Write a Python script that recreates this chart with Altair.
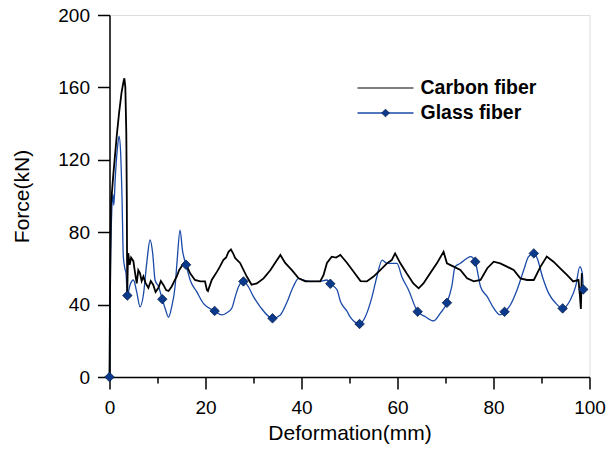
import altair as alt
import pandas as pd

# ---- data ----
carbon_x = [0, 0.1, 0.2, 0.3, 0.45, 0.8, 1.2, 1.5, 2.0, 2.5, 2.9, 3.1, 3.3, 3.5, 3.6, 3.65, 3.7, 3.8, 3.9, 4.2,
            4.5, 4.97, 5.3, 5.67, 6.0, 6.36, 6.7, 7.06, 7.5, 8.1, 8.6, 9.1, 9.6, 10.2, 10.7, 11.2, 11.8, 12.3, 12.96, 13.5,
            14.0, 14.5, 15.0, 15.5, 16.0, 16.8, 17.8, 18.9, 19.9, 20.3, 20.5, 21.3, 22.4, 23.0, 23.7, 24.3, 24.8, 25.3, 25.8, 26.2,
            27.2, 28.6, 29.6, 30.7, 32.1, 33.5, 34.9, 35.6, 36.6, 38.0, 39.4, 40.8, 42.5, 43.9, 44.6, 45.3, 46.3, 47.2, 48.1, 49.5,
            50.9, 52.3, 53.6, 55.0, 56.4, 57.8, 58.8, 59.5, 60.6, 61.9, 63.3, 64.4, 65.4, 66.8, 68.2, 69.6, 70.3, 71.7, 73.1, 74.5,
            75.9, 77.3, 78.7, 80.05, 81.4, 82.8, 84.2, 85.6, 87.0, 88.4, 89.8, 91.1, 92.5, 93.9, 95.3, 96.6, 97.7, 98.0, 98.2, 98.4]
carbon_y = [0, 40, 70, 95, 100, 112, 124, 133, 146, 157, 163, 165, 160, 135, 100, 70, 46, 60, 68.5, 62,
            66, 64, 58, 51.7, 59, 57.3, 53, 55.5, 52, 49.3, 53, 51, 47, 49.3, 53, 51, 48, 47.5, 50, 53,
            55.5, 59, 61, 63, 62, 57.3, 53.6, 52.8, 52.8, 48, 47.5, 53.6, 58.2, 61, 64.6, 66, 69.2, 70.5, 68, 65.6,
            63, 55.5, 51, 51.7, 54.5, 59, 64.6, 67.4, 63, 59, 54.5, 52.8, 52.8, 52.8, 56.4, 63, 66.5, 66, 67.4, 63,
            58, 53, 52.8, 55.5, 59.1, 62.8, 64.6, 68.3, 62.8, 57.3, 51.7, 49, 51.7, 57.3, 62.8, 69.2, 62.8, 61, 59.1, 54.5,
            52.8, 53.6, 60.1, 63.7, 62.8, 61, 59.1, 54.5, 53.6, 53.6, 61, 66.5, 63.7, 60, 56.4, 52.8, 53.6, 45, 37.6, 57.3]

glass_x = [0, 0.2, 0.45, 0.7, 0.9, 1.2, 1.6, 2.0, 2.3, 2.6, 2.88, 3.2, 3.44, 3.72, 4.27, 4.97, 5.67, 6.36, 7.06, 7.75,
           8.45, 9.0, 9.49, 10.2, 11.0, 11.7, 12.3, 12.96, 13.66, 14.1, 14.7, 15.2, 15.95, 16.8, 18.2, 19.6, 21.9, 23.4, 24.4, 25.5,
           26.2, 26.9, 27.9, 28.9, 30.0, 31.4, 33.96, 35.6, 36.9, 38.3, 39.4, 40.4, 41.8, 43.9, 45.3, 46.0, 47.4, 48.1, 49.5, 50.1,
           52.1, 53.3, 54.7, 55.7, 56.8, 57.8, 58.8, 59.9, 60.9, 62.3, 64.2, 65.8, 67.5, 68.9, 70.3, 71.3, 72.0, 73.1, 74.5, 75.2,
           76.2, 76.6, 77.3, 78.7, 80.05, 81.4, 82.3, 83.5, 84.9, 86.3, 87.3, 88.4, 89.1, 90.2, 91.5, 93.0, 94.4, 96.0, 97.1, 98.0,
           98.5, 98.7]
glass_y = [0, 60, 90, 101, 95, 110, 125, 133, 125, 100, 66.5, 60, 57.3, 45, 50.8, 53.6, 47, 38.8, 45.3, 62.8,
           75.7, 68.3, 53.6, 50, 43, 37, 33, 38.8, 50, 64.6, 81.2, 70, 62, 53.6, 47, 40.5, 36.5, 34.3, 35.4, 38.1,
           44.4, 50, 52.8, 50, 44.4, 38.8, 32.4, 34.3, 40.9, 50, 54.5, 53.6, 52.8, 52.8, 53.6, 51.5, 48.2, 41.8, 36.3, 33.3,
           29.3, 33.3, 44.4, 55.4, 64.6, 62.8, 62.8, 62.8, 55.4, 48.1, 36.1, 33.3, 31, 35.2, 41, 49.9, 61, 62.8, 65.6, 66.5,
           63.7, 59.1, 49.9, 44.4, 38, 34.3, 36, 39.8, 48.1, 59.1, 66.5, 68.3, 65.6, 55.4, 46.2, 40.7, 37.9, 42.5, 49.9, 61,
           57.3, 48.4]

marker_x = [0, 3.72, 11.0, 15.95, 21.9, 27.9, 33.96, 46.0, 52.1, 64.2, 70.3, 76.2, 82.3, 88.4, 94.4, 98.7]
marker_y = [0, 45, 43, 62, 36.5, 52.8, 32.4, 51.5, 29.3, 36.1, 41, 63.7, 36, 68.3, 37.9, 48.4]

legend_labels = ["Carbon fiber", "Glass fiber"]

BLUE = "#1a4aa8"
MARK_FILL = "#0b3a8c"
FONT = "Liberation Sans"

carbon = pd.DataFrame({"x": carbon_x, "y": carbon_y, "i": range(len(carbon_x))})
glass = pd.DataFrame({"x": glass_x, "y": glass_y, "i": range(len(glass_x))})
markers = pd.DataFrame({"x": marker_x, "y": marker_y})

xscale = alt.Scale(domain=[0, 100], nice=False, zero=False)
yscale = alt.Scale(domain=[0, 200], nice=False)

common = dict(
    grid=False, domainColor="black", tickColor="black", labelColor="black", titleColor="black",
    labelFont=FONT, titleFont=FONT, labelFontSize=19, titleFontSize=21, titleFontWeight="normal",
    labelFlush=False, labelOverlap=False, domainWidth=1.5, tickWidth=1.5,
)
xaxis = alt.Axis(
    title="Deformation(mm)", values=list(range(0, 101, 10)),
    labelExpr="datum.value % 20 === 0 ? datum.label : ''",
    tickSize={"condition": {"test": "datum.value % 20 === 0", "value": 12}, "value": 6},
    labelPadding=9, titlePadding=5, **common,
)
yaxis = alt.Axis(
    title="Force(kN)", values=list(range(0, 201, 20)),
    labelExpr="datum.value % 40 === 0 ? datum.label : ''",
    tickSize={"condition": {"test": "datum.value % 40 === 0", "value": 12}, "value": 6},
    labelPadding=8, titlePadding=25, **common,
)

glass_line = alt.Chart(glass).mark_line(color=BLUE, strokeWidth=1.3, interpolate="monotone").encode(
    x=alt.X("x:Q", scale=xscale, axis=xaxis),
    y=alt.Y("y:Q", scale=yscale, axis=yaxis),
    order="i:Q",
)
carbon_line = alt.Chart(carbon).mark_line(color="black", strokeWidth=1.8).encode(
    x=alt.X("x:Q", scale=xscale),
    y=alt.Y("y:Q", scale=yscale),
    order="i:Q",
)
pts = alt.Chart(markers).mark_point(
    shape="diamond", filled=True, fill=MARK_FILL, stroke="#0a1f4a", strokeWidth=0.8, size=90, opacity=1
).encode(x=alt.X("x:Q", scale=xscale), y=alt.Y("y:Q", scale=yscale))

# ---- legend ----
leg = pd.DataFrame({"label": legend_labels})
leg_c = leg[leg.label == legend_labels[0]]
leg_g = leg[leg.label == legend_labels[1]]
leg_rule_c = alt.Chart(leg_c).mark_rule(color="black", strokeWidth=1.2).encode(
    x=alt.value(248), x2=alt.value(304), y=alt.value(73))
leg_rule_g = alt.Chart(leg_g).mark_rule(color=BLUE, strokeWidth=1.3).encode(
    x=alt.value(248), x2=alt.value(304), y=alt.value(98))
leg_pt = alt.Chart(leg_g).mark_point(
    shape="diamond", filled=True, fill=MARK_FILL, stroke="#0a1f4a", strokeWidth=0.8, size=60, opacity=1
).encode(x=alt.value(276), y=alt.value(98))
leg_txt_c = alt.Chart(leg_c).mark_text(
    align="left", baseline="middle", font=FONT, fontSize=19.5, fontWeight="bold", color="black"
).encode(x=alt.value(311), y=alt.value(73), text="label:N")
leg_txt_g = alt.Chart(leg_g).mark_text(
    align="left", baseline="middle", font=FONT, fontSize=19.5, fontWeight="bold", color="black"
).encode(x=alt.value(311), y=alt.value(98), text="label:N")

chart = alt.layer(
    glass_line, carbon_line, pts, leg_rule_c, leg_rule_g, leg_pt, leg_txt_c, leg_txt_g
).properties(
    width=480, height=362,
    autosize=alt.AutoSizeParams(type="none"),
    padding={"left": 101.5, "top": 7, "right": 18, "bottom": 67},
).configure_view(stroke=None).configure(background="white")

chart.save("out.html", embed_options={"renderer": "svg", "actions": False})
